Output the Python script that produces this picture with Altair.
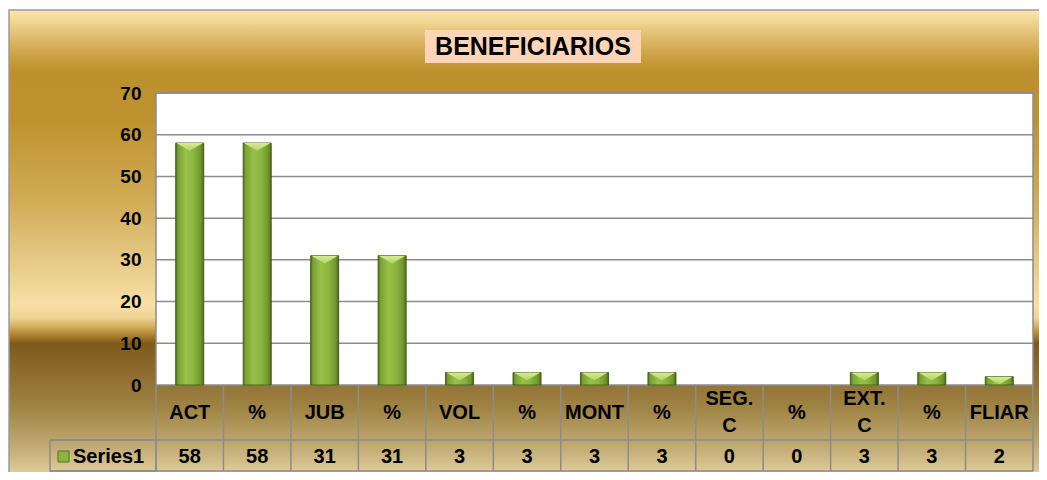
import altair as alt
import pandas as pd

# ---- data ----
categories = ["ACT", "%", "JUB", "%", "VOL", "%", "MONT", "%", "SEG.\nC", "%", "EXT.\nC", "%", "FLIAR"]
values = [58, 58, 31, 31, 3, 3, 3, 3, 0, 0, 3, 3, 2]
series_name = "Series1"
title_text = "BENEFICIARIOS"
y_ticks = [0, 10, 20, 30, 40, 50, 60, 70]
grid_values = [10, 20, 30, 40, 50, 60, 70]

keys = [f"k{i:02d}" for i in range(len(categories))]
df = pd.DataFrame({"key": keys, "label": categories, "value": values})
df["multi"] = df["label"].str.contains("\n")
df_bars = df[df["value"] > 0]
df_single = df[~df["multi"]]
df_multi = df[df["multi"]]
df_grid = pd.DataFrame({"g": grid_values})
one = pd.DataFrame({"a": [0]})

W, H = 877, 292
FONT = "Liberation Sans"
GRAY = "#8c8c8c"

xscale = alt.Scale(domain=keys, paddingInner=0, paddingOuter=0)
yscale = alt.Scale(domain=[0, 70], nice=False)
yaxis = alt.Axis(
    values=y_ticks, ticks=False, domain=False, grid=False,
    labelFontSize=19, labelFontWeight="bold", labelFont=FONT,
    labelColor="black", labelPadding=15, zindex=2, title=None,
)

bg_grad = alt.Gradient(
    gradient="linear", x1=0, y1=0, x2=0, y2=1,
    stops=[
        alt.GradientStop(offset=0.0, color="#fbe6ae"),
        alt.GradientStop(offset=0.021, color="#f3d897"),
        alt.GradientStop(offset=0.064, color="#dcb766"),
        alt.GradientStop(offset=0.107, color="#c79c3c"),
        alt.GradientStop(offset=0.132, color="#bd902e"),
        alt.GradientStop(offset=0.235, color="#be922f"),
        alt.GradientStop(offset=0.406, color="#d1ab55"),
        alt.GradientStop(offset=0.534, color="#e5c985"),
        alt.GradientStop(offset=0.630, color="#f7dfa5"),
        alt.GradientStop(offset=0.658, color="#efd393"),
        alt.GradientStop(offset=0.677, color="#d2ad5c"),
        alt.GradientStop(offset=0.694, color="#b08430"),
        alt.GradientStop(offset=0.712, color="#7f5a1c"),
        alt.GradientStop(offset=0.769, color="#8c6a2d"),
        alt.GradientStop(offset=0.855, color="#a08646"),
        alt.GradientStop(offset=0.940, color="#c4ae79"),
        alt.GradientStop(offset=1.0, color="#e6d3a2"),
    ],
)

bar_grad = alt.Gradient(
    gradient="linear", x1=0, y1=0, x2=1, y2=0,
    stops=[
        alt.GradientStop(offset=0.0, color="#4f6b1c"),
        alt.GradientStop(offset=0.08, color="#79a032"),
        alt.GradientStop(offset=0.35, color="#97c14a"),
        alt.GradientStop(offset=0.65, color="#8ab540"),
        alt.GradientStop(offset=0.9, color="#6f952c"),
        alt.GradientStop(offset=1.0, color="#4a6419"),
    ],
)

bevel_grad = alt.Gradient(
    gradient="linear", x1=0, y1=0, x2=0, y2=1,
    stops=[
        alt.GradientStop(offset=0.0, color="#d6ec94"),
        alt.GradientStop(offset=1.0, color="#b2d564"),
    ],
)

# background of the whole chart
background = alt.Chart(one).mark_rect(
    fill=bg_grad, stroke="#9a9a9a", strokeWidth=1.5
).encode(
    x=alt.value(-147), x2=alt.value(W + 20),
    y=alt.value(-83), y2=alt.value(H + 93),
)

# plot area
plot_bg = alt.Chart(one).mark_rect(fill="white", stroke=GRAY, strokeWidth=1.5).encode(
    x=alt.value(0), x2=alt.value(W), y=alt.value(0), y2=alt.value(H)
)

grid = alt.Chart(df_grid).mark_rule(color=GRAY, strokeWidth=1.5).encode(
    y=alt.Y("g:Q", scale=yscale, axis=yaxis, title=None),
    x=alt.value(0), x2=alt.value(W),
)

bars = alt.Chart(df_bars).mark_bar(
    size=28, fill=bar_grad, stroke="#46601a", strokeWidth=1
).encode(
    x=alt.X("key:N", scale=xscale, axis=None, title=None),
    y=alt.Y("value:Q", scale=yscale, title=None, axis=yaxis),
)

bevel = alt.Chart(df_bars).mark_point(
    shape="M-0.95,0 L0.95,0 L0,0.55 Z", filled=True, fill=bevel_grad,
    opacity=1, size=784, strokeWidth=0,
).encode(
    x=alt.X("key:N", scale=xscale, axis=None),
    y=alt.Y("value:Q", scale=yscale, axis=yaxis, title=None),
)

# data table
TOP, MID, BOT = H, H + 55, H + 86
vlines = alt.Chart(df).mark_rule(color=GRAY, strokeWidth=1.5).encode(
    x=alt.X("key:N", scale=xscale, axis=None, bandPosition=0),
    y=alt.value(TOP), y2=alt.value(BOT),
)
right_line = alt.Chart(one).mark_rule(color=GRAY, strokeWidth=1.5).encode(
    x=alt.value(W), y=alt.value(TOP), y2=alt.value(BOT)
)
series_cell = alt.Chart(one).mark_rect(fill=None, stroke=GRAY, strokeWidth=1.5).encode(
    x=alt.value(-106), x2=alt.value(0), y=alt.value(MID), y2=alt.value(BOT)
)
hline_mid = alt.Chart(one).mark_rule(color=GRAY, strokeWidth=1.5).encode(
    x=alt.value(-106), x2=alt.value(W), y=alt.value(MID)
)
hline_bot = alt.Chart(one).mark_rule(color=GRAY, strokeWidth=1.5).encode(
    x=alt.value(-106), x2=alt.value(W), y=alt.value(BOT)
)

cat_text = alt.Chart(df_single).mark_text(
    font=FONT, fontSize=20, fontWeight="bold", color="black",
    baseline="middle", align="center",
).encode(
    x=alt.X("key:N", scale=xscale, axis=None, bandPosition=0.5),
    y=alt.value((TOP + MID) / 2),
    text="label:N",
)
cat_text_multi = alt.Chart(df_multi).mark_text(
    font=FONT, fontSize=20, fontWeight="bold", color="black",
    lineBreak="\n", lineHeight=27, baseline="middle", align="center",
).encode(
    x=alt.X("key:N", scale=xscale, axis=None, bandPosition=0.5),
    y=alt.value((TOP + MID) / 2 - 14),
    text="label:N",
)
val_text = alt.Chart(df).mark_text(
    font=FONT, fontSize=20, fontWeight="bold", color="black",
    baseline="middle", align="center",
).encode(
    x=alt.X("key:N", scale=xscale, axis=None, bandPosition=0.5),
    y=alt.value((MID + BOT) / 2 + 1),
    text="value:Q",
)

legend_box = alt.Chart(one).mark_rect(fill="#8ab53f", stroke="#55731f", strokeWidth=1).encode(
    x=alt.value(-98), x2=alt.value(-87), y=alt.value(MID + 11), y2=alt.value(MID + 22)
)
legend_text = alt.Chart(pd.DataFrame({"t": [series_name]})).mark_text(
    font=FONT, fontSize=20, fontWeight="bold", color="black",
    align="left", baseline="middle",
).encode(x=alt.value(-83), y=alt.value((MID + BOT) / 2 + 1), text="t:N")

# title
title_box = alt.Chart(one).mark_rect(fill="#fbd5b5").encode(
    x=alt.value(269), x2=alt.value(485), y=alt.value(-63), y2=alt.value(-30)
)
title = alt.Chart(pd.DataFrame({"t": [title_text]})).mark_text(
    font=FONT, fontSize=25, fontWeight="bold", color="black",
    align="center", baseline="middle",
).encode(x=alt.value(377), y=alt.value(-46), text="t:N")

chart = alt.layer(
    background, plot_bg, grid, bars, bevel,
    vlines, right_line, series_cell, hline_mid, hline_bot,
    cat_text, cat_text_multi, val_text, legend_box, legend_text, title_box, title,
).properties(
    width=W, height=H,
    padding={"left": 148, "top": 85, "right": 6, "bottom": 87},
    autosize=alt.AutoSizeParams(type="none"),
).configure_view(stroke=None).configure(background="white")

chart.save("out.html", embed_options={"renderer": "svg", "actions": False})
